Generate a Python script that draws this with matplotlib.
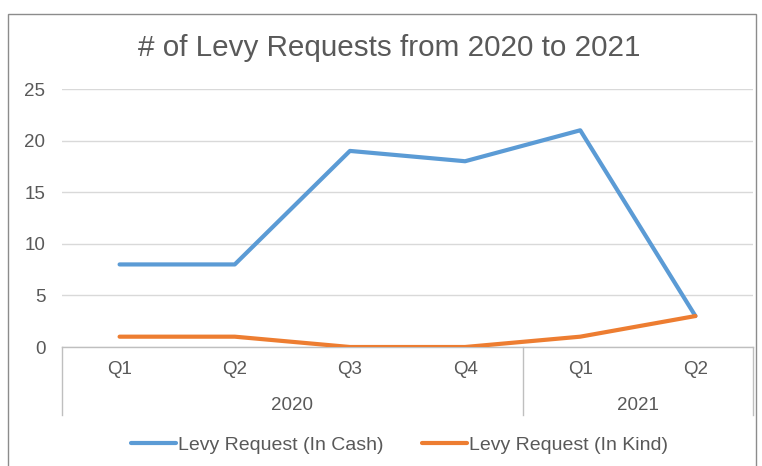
import matplotlib
matplotlib.use("Agg")
import matplotlib.pyplot as plt
import matplotlib.transforms as mtransforms
from matplotlib.patches import Rectangle

# Quarterly levy request counts
quarters = ["Q1", "Q2", "Q3", "Q4", "Q1", "Q2"]
years = ["2020", "2020", "2020", "2020", "2021", "2021"]
in_cash = [8, 8, 19, 18, 21, 3]
in_kind = [1, 1, 0, 0, 1, 3]
series_names = ["Levy Request (In Cash)", "Levy Request (In Kind)"]
title = "# of Levy Requests from 2020 to 2021"
y_ticks = [0, 5, 10, 15, 20, 25]

plt.rcParams["font.family"] = ["Liberation Sans", "DejaVu Sans"]
TEXT = "#595959"
GRID = "#D9D9D9"
AXIS = "#BFBFBF"
BLUE = "#5B9BD5"
ORANGE = "#ED7D31"

W, H = 762, 466
fig = plt.figure(figsize=(W / 100, H / 100), dpi=100)

# Outer chart frame
fig.patches.append(Rectangle((7.5 / W, -0.05), (756 - 7.5) / W, 1.05 - 13.5 / H,
                             transform=fig.transFigure, fill=False,
                             edgecolor="#8C8C8C", linewidth=1.0))

left, right, top, bottom = 62, 753, 89, 347
ax = fig.add_axes([left / W, (H - bottom) / H, (right - left) / W, (bottom - top) / H])

x = list(range(len(quarters)))
ax.plot(x, in_cash, color=BLUE, linewidth=3.0, solid_joinstyle="round",
        solid_capstyle="round", label=series_names[0], zorder=3)
ax.plot(x, in_kind, color=ORANGE, linewidth=3.0, solid_joinstyle="round",
        solid_capstyle="round", label=series_names[1], zorder=3)

ax.set_xlim(-0.5, len(quarters) - 0.5)
ax.set_ylim(0, 25)
ax.set_yticks(y_ticks)
ax.yaxis.grid(True, color=GRID, linewidth=1.0)
ax.set_axisbelow(True)
for side in ("top", "right", "left"):
    ax.spines[side].set_visible(False)
ax.spines["bottom"].set_color(AXIS)
ax.spines["bottom"].set_linewidth(1.0)
ax.tick_params(axis="y", length=0, pad=12, labelsize=13.5, labelcolor=TEXT)
ax.set_xticks([])

# Two-level category axis: quarters above, years below
plot_h = bottom - top
trans = mtransforms.blended_transform_factory(ax.transData, ax.transAxes)
sep_bottom = -(415 - bottom) / plot_h
q_y = -(370 - bottom) / plot_h
yr_y = -(405 - bottom) / plot_h

for i, q in enumerate(quarters):
    ax.text(i, q_y, q, transform=trans, ha="center", va="center",
            fontsize=13.5, color=TEXT)

groups = []
start = 0
for i in range(1, len(years) + 1):
    if i == len(years) or years[i] != years[start]:
        groups.append((years[start], start, i - 1))
        start = i

boundaries = {-0.5}
for name, s, e in groups:
    boundaries.add(e + 0.5)
    ax.text((s + e) / 2, yr_y, name, transform=trans, ha="center", va="center",
            fontsize=13.5, color=TEXT)
for b in sorted(boundaries):
    ax.plot([b, b], [0, sep_bottom], transform=trans, color=AXIS,
            linewidth=1.0, clip_on=False)

fig.text(389 / W, 1 - 48 / H, title, ha="center", va="center",
         fontsize=21.3, color=TEXT)

fig.legend(loc="center", bbox_to_anchor=(399.5 / W, 1 - 445 / H),
           ncol=2, frameon=False, fontsize=14, labelcolor=TEXT,
           handlelength=2.35, handletextpad=0.1, columnspacing=1.95)

fig.savefig("out.png", dpi=100)
